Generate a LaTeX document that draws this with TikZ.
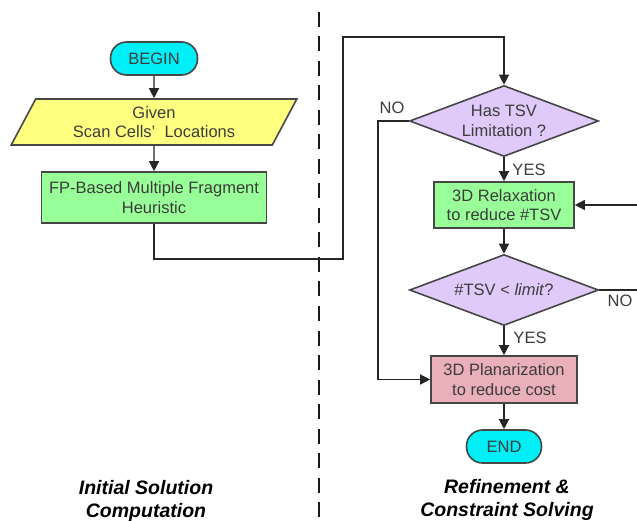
\documentclass[tikz,border=0pt]{standalone}
\usepackage{fontspec}
\setmainfont{Liberation Sans}
\usetikzlibrary{shapes.geometric,arrows.meta}

\definecolor{termcyan}{RGB}{0,238,246}
\definecolor{inyellow}{RGB}{255,255,128}
\definecolor{procgreen}{RGB}{153,255,153}
\definecolor{declilac}{RGB}{224,202,250}
\definecolor{planpink}{RGB}{234,176,186}
\definecolor{edgegrey}{RGB}{70,70,70}
\definecolor{txtgrey}{RGB}{60,60,60}

\begin{document}
\begin{tikzpicture}[x=1pt,y=-1pt,
  box/.style={draw=edgegrey,line width=1.6pt,text=txtgrey,align=center,inner sep=0pt,
    font=\fontsize{16.5}{19.5}\selectfont},
  term/.style={box,fill=termcyan,rounded corners=16pt,minimum height=33pt},
  proc/.style={box,fill=procgreen,minimum height=48pt},
  decide/.style={box,diamond,aspect=2.65,fill=declilac,minimum width=189pt,minimum height=71pt},
  flow/.style={draw=black!85,line width=1.3pt,-{Triangle[length=10pt,width=10pt]}},
  lbl/.style={text=txtgrey,font=\fontsize{16.5}{19.5}\selectfont,inner sep=0pt},
  title/.style={align=center,inner sep=0pt,font=\fontsize{19.5}{23}\selectfont\bfseries\itshape}]
\clip (0,0) rectangle (637,521);

\path[draw=black!90,line width=2pt,dash pattern=on 15pt off 9.5pt] (319,12) -- (319,521);

\node[term,minimum width=87pt] (begin) at (154,58.5) {BEGIN};
\node[box,trapezium,trapezium left angle=62,trapezium right angle=118,trapezium stretches,
  fill=inyellow,minimum width=286pt,minimum height=46pt] (given) at (154,122)
  {Given\\Scan Cells’~ Locations};
\node[proc,fill=procgreen,minimum width=225pt,minimum height=51pt] (init) at (154,197.5)
  {FP-Based Multiple Fragment\\Heuristic};

\path[flow] (begin) -- (given);
\path[flow] (given) -- (init);

\node[decide] (has) at (504,121) {Has TSV\\Limitation ?};
\node[proc,minimum width=140pt,minimum height=46pt] (relax) at (504,205) {3D Relaxation\\to reduce \#TSV};
\node[decide] (chk) at (504,290) {\#TSV < \textit{limit}?};
\node[proc,fill=planpink,minimum width=146pt,minimum height=47pt] (plan) at (504,379.5) {3D Planarization\\to reduce cost};
\node[term,minimum width=75pt] (end) at (504,446.5) {END};

\coordinate (j1) at (343,259);
\coordinate (j2) at (343,37);
\coordinate (j3) at (378,121);
\coordinate (j4) at (660,290);

\path[flow] (init.south) |- (j1) -- (j2) -| (has.north);
\path[flow] (has) -- (relax);
\path[flow] (relax) -- (chk);
\path[flow] (chk) -- (plan);
\path[flow] (plan) -- (end);
\path[flow] (has.west) -- (j3) |- (plan.west);
\path[flow] (chk.east) -- (j4) |- (relax.east);

\node[lbl] (no1) at (392,108) {NO};
\node[lbl] (yes1) at (529,170) {YES};
\node[lbl] (no2) at (620,301) {NO};
\node[lbl] (yes2) at (530,338) {YES};

\node[title] (lefttitle) at (146,501) {Initial Solution\\Computation};
\node[title] (righttitle) at (507,500) {Refinement \&\\Constraint Solving};
\end{tikzpicture}
\end{document}
